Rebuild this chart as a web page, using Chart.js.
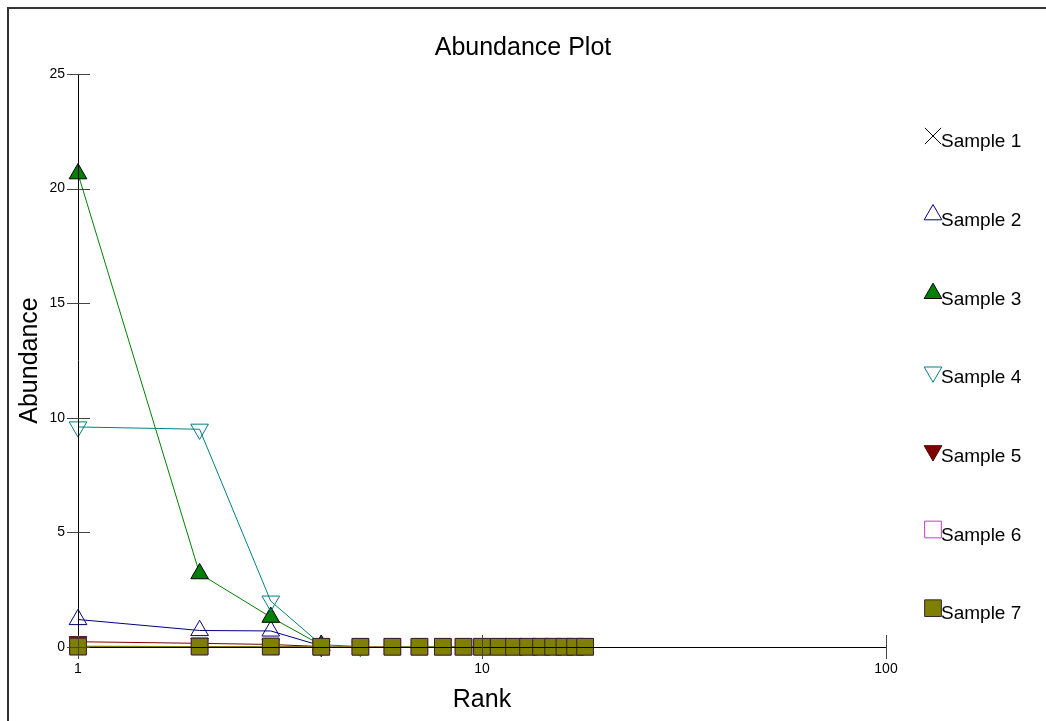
<!DOCTYPE html>
<html>
<head>
<meta charset="utf-8">
<script src="https://cdn.jsdelivr.net/npm/chart.js@4/dist/chart.umd.min.js"></script>
<style>
  body { margin: 0; background: #fff; }
  #wrap { position: relative; width: 1046px; height: 721px; }
  #frame { position: absolute; left: 7px; top: 7px; right: 0; bottom: 0;
           border-top: 2px solid #333; border-left: 2px solid #333; pointer-events: none; }
  canvas { position: absolute; left: 0; top: 0; }
</style>
</head>
<body>
<div id="wrap">
  <canvas id="chart" width="1046" height="721"></canvas>
  <div id="frame"></div>
</div>
<script>
// ranks on the log x axis
const ranks = [1, 2, 3, 4, 5, 6, 7, 8, 9, 10, 11, 12, 13, 14, 15, 16, 17, 18];
const xTicks = [1, 10, 100];

const seriesNames = ['Sample 1', 'Sample 2', 'Sample 3', 'Sample 4', 'Sample 5', 'Sample 6', 'Sample 7'];
const sample1 = [0.03, 0.02, 0.01, 0.01];
const sample2 = [1.2, 0.72, 0.7, 0.05];
const sample3 = [20.65, 3.2, 1.3, 0.08];
const sample4 = [9.6, 9.5, 2.0, 0.1, 0.02];
const sample5 = [0.23, 0.16, 0.11, 0.02];
const sample6 = [0.02, 0.02, 0.02, 0.01, 0.01, 0.01, 0.01, 0.01, 0.01, 0.01, 0.01, 0.01, 0.01, 0.01, 0.01, 0.01, 0.01, 0.01];
const sample7 = [0.02, 0.02, 0.02, 0.01, 0.01, 0.01, 0.01, 0.01, 0.01, 0.01, 0.01, 0.01, 0.01, 0.01, 0.01, 0.01, 0.01, 0.01];

const toPoints = vals => vals.map((v, i) => ({ x: ranks[i], y: v }));

const styles = [
  { line: '#000000', fill: 'transparent', edge: '#000000', shape: 'crossRot', rot: 0, r: 11.5 },
  { line: '#000080', fill: 'transparent', edge: '#000080', shape: 'triangle', rot: 0, r: 10.2 },
  { line: '#008000', fill: '#008000', edge: '#000000', shape: 'triangle', rot: 0, r: 10.2 },
  { line: '#008080', fill: 'transparent', edge: '#008080', shape: 'triangle', rot: 180, r: 10.2 },
  { line: '#800000', fill: '#800000', edge: '#4a0000', shape: 'triangle', rot: 180, r: 10.2 },
  { line: '#c040c0', fill: 'transparent', edge: '#c040c0', shape: 'rect', rot: 0, r: 11.8 },
  { line: '#808000', fill: '#808000', edge: '#332233', shape: 'rect', rot: 0, r: 11.8 }
];
const allValues = [sample1, sample2, sample3, sample4, sample5, sample6, sample7];

const datasets = allValues.map((vals, i) => ({
  label: seriesNames[i],
  data: toPoints(vals),
  borderColor: styles[i].line,
  borderWidth: 1,
  pointStyle: styles[i].shape,
  pointRotation: styles[i].rot,
  pointRadius: styles[i].r,
  pointBackgroundColor: styles[i].fill,
  pointBorderColor: styles[i].edge,
  pointBorderWidth: 1,
  tension: 0,
  clip: false,
  order: 6 - i
}));

// axis lines with crossing tick marks, drawn over the data
const axesPlugin = {
  id: 'axes',
  afterDatasetsDraw(chart) {
    const { ctx, scales: { x, y } } = chart;
    const x0 = x.getPixelForValue(1);
    const y0 = y.getPixelForValue(0);
    ctx.save();
    ctx.lineWidth = 1;
    ctx.strokeStyle = '#000';
    ctx.beginPath();
    ctx.moveTo(x0 + 0.5, y.top);
    ctx.lineTo(x0 + 0.5, y.bottom);
    ctx.moveTo(x.left, y0 + 0.5);
    ctx.lineTo(x.right, y0 + 0.5);
    ctx.stroke();
    ctx.strokeStyle = '#444';
    ctx.beginPath();
    y.ticks.forEach(t => {
      const py = Math.round(y.getPixelForValue(t.value)) + 0.5;
      ctx.moveTo(x0 - 11, py);
      ctx.lineTo(x0 + 12, py);
    });
    x.ticks.forEach(t => {
      const px = Math.round(x.getPixelForValue(t.value)) + 0.5;
      ctx.moveTo(px, y0 - 12);
      ctx.lineTo(px, y0 + 12);
    });
    ctx.stroke();
    ctx.restore();
  }
};

// legend on the right: marker, then the name
const legendPlugin = {
  id: 'sideLegend',
  afterDraw(chart) {
    const { ctx } = chart;
    ctx.save();
    chart.data.datasets.forEach((ds, i) => {
      const mx = 933, my = 136 + i * 78.7;
      ctx.fillStyle = ds.pointBackgroundColor;
      ctx.strokeStyle = ds.pointBorderColor;
      ctx.lineWidth = 1;
      Chart.helpers.drawPoint(ctx, {
        pointStyle: ds.pointStyle, rotation: ds.pointRotation,
        radius: ds.pointRadius, borderWidth: 1
      }, mx, my);
      ctx.fillStyle = '#000';
      ctx.font = '19px "Liberation Sans", Arial, sans-serif';
      ctx.textBaseline = 'middle';
      ctx.textAlign = 'left';
      ctx.fillText(ds.label, 941, my + 6);
    });
    ctx.restore();
  }
};

new Chart(document.getElementById('chart'), {
  type: 'line',
  data: { datasets },
  plugins: [axesPlugin, legendPlugin],
  options: {
    responsive: false,
    animation: false,
    events: [],
    layout: { padding: 0 },
    plugins: {
      legend: { display: false },
      tooltip: { enabled: false },
      title: {
        display: true,
        text: 'Abundance Plot',
        color: '#000',
        font: { family: '"Liberation Sans", Arial, sans-serif', size: 25, weight: 'normal', lineHeight: 1.2 },
        padding: { top: 33, bottom: 11 }
      }
    },
    scales: {
      x: {
        type: 'logarithmic',
        min: 1,
        max: 100,
        afterBuildTicks: s => { s.ticks = xTicks.map(v => ({ value: v })); },
        afterFit: s => { s.height = 74; },
        grid: { display: false },
        border: { display: false },
        ticks: {
          color: '#000', padding: 6, maxRotation: 0, autoSkip: false,
          font: { family: '"Liberation Sans", Arial, sans-serif', size: 14 },
          callback: v => String(v)
        },
        title: {
          display: true, text: 'Rank', color: '#000',
          font: { family: '"Liberation Sans", Arial, sans-serif', size: 25, lineHeight: 1.2 },
          padding: { top: 0, bottom: 6 }
        }
      },
      y: {
        type: 'linear',
        min: 0,
        max: 25,
        afterFit: s => { s.width = 78; },
        grid: { display: false },
        border: { display: false },
        ticks: {
          stepSize: 5, color: '#000', padding: 5,
          font: { family: '"Liberation Sans", Arial, sans-serif', size: 14 }
        },
        title: {
          display: true, text: 'Abundance', color: '#000',
          font: { family: '"Liberation Sans", Arial, sans-serif', size: 25, lineHeight: 1.2 },
          padding: { top: 15, bottom: 0 }
        }
      },
      yRight: {
        type: 'linear',
        position: 'right',
        display: true,
        afterFit: s => { s.width = 160; },
        grid: { display: false },
        border: { display: false },
        ticks: { display: false }
      }
    }
  }
});
</script>
</body>
</html>
